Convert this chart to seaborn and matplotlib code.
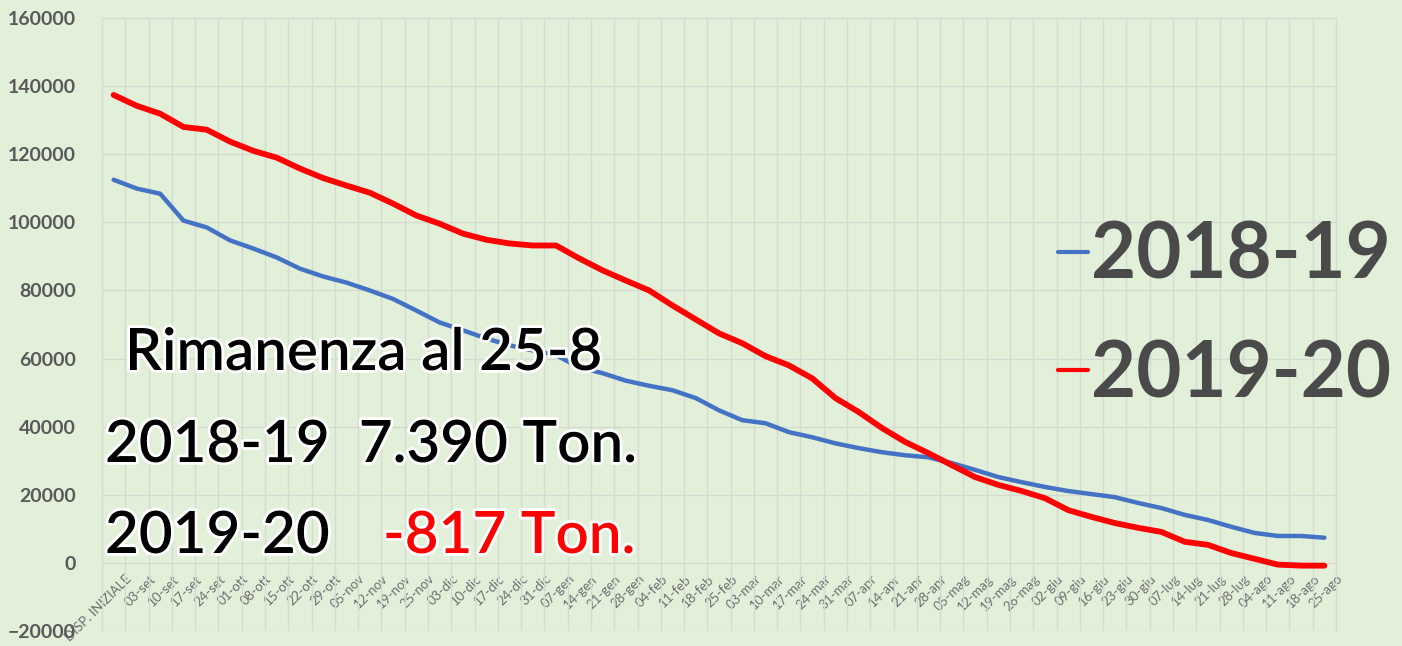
import numpy as np
import pandas as pd
import matplotlib
matplotlib.use('Agg')
import matplotlib.pyplot as plt
import seaborn as sns
from matplotlib import patheffects as pe
from matplotlib.transforms import ScaledTranslation

# settimane (asse x)
date = ['DISP. INIZIALE', '03-set', '10-set', '17-set', '24-set',
        '01-ott', '08-ott', '15-ott', '22-ott', '29-ott',
        '05-nov', '12-nov', '19-nov', '25-nov',
        '03-dic', '10-dic', '17-dic', '24-dic', '31-dic',
        '07-gen', '14-gen', '21-gen', '28-gen',
        '04-feb', '11-feb', '18-feb', '25-feb',
        '03-mar', '10-mar', '17-mar', '24-mar', '31-mar',
        '07-apr', '14-apr', '21-apr', '28-apr',
        '05-mag', '12-mag', '19-mag', '26-mag',
        '02-giu', '09-giu', '16-giu', '23-giu', '30-giu',
        '07-lug', '14-lug', '21-lug', '28-lug',
        '04-ago', '11-ago', '18-ago', '25-ago']

# rimanenze in tonnellate
ton_1819 = [112500, 109900, 108400, 100500, 98500, 94700, 92300, 89700, 86400, 84100,
            82300, 80000, 77500, 74100, 70600, 68300, 65900, 63900, 62400, 61000,
            57400, 55700, 53500, 52000, 50700, 48400, 44800, 41900, 41000, 38400,
            36900, 35100, 33700, 32500, 31600, 31000, 29300, 27300, 25200, 23700,
            22300, 21100, 20200, 19300, 17600, 16100, 14100, 12600, 10600, 8800,
            7900, 7900, 7390]
ton_1920 = [137400, 134200, 131900, 128000, 127200, 123700, 121000, 119000, 115800, 113000,
            110800, 108700, 105500, 102000, 99600, 96700, 94900, 93800, 93200, 93200,
            89400, 85900, 82900, 80000, 75600, 71500, 67400, 64500, 60700, 58000,
            54200, 48400, 44300, 39600, 35500, 32200, 28700, 25200, 22900, 21100,
            19000, 15500, 13500, 11700, 10300, 9100, 6200, 5300, 2900, 1200,
            -500, -800, -817]

stagioni = ['2018-19', '2019-20']
colori = {'2018-19': '#4472c4', '2019-20': '#ff0000'}

df = pd.DataFrame({
    'data': date * 2,
    'ton': ton_1819 + ton_1920,
    'stagione': [stagioni[0]] * len(date) + [stagioni[1]] * len(date),
})

bg = '#e2efd9'
sns.set_style('white')
plt.rcParams['font.family'] = ['Lato', 'DejaVu Sans']

W, H = 1402, 646
fig = plt.figure(figsize=(W / 100, H / 100), dpi=100, facecolor=bg)
ax = fig.add_axes([102 / W, 15 / H, (1336 - 102) / W, (631 - 18) / H])
ax.set_facecolor(bg)

sns.lineplot(data=df, x='data', y='ton', hue='stagione', palette=colori,
             sort=False, ax=ax, linewidth=3)
ax.lines[0].set_linewidth(3.2)
ax.lines[1].set_linewidth(4.2)
for ln in ax.lines:
    ln.set_solid_capstyle('round')

ax.set_xlim(-0.5, len(date) - 0.5)
ax.set_ylim(-20000, 160000)
ax.set_yticks(np.arange(-20000, 160001, 20000))
ax.set_xticks(np.arange(len(date)))
ax.set_xticks(np.arange(len(date) + 1) - 0.5, minor=True)
ax.set_xlabel('')
ax.set_ylabel('')

# griglia stile Excel
ax.grid(True, axis='y', which='major', color='#d3dbd3', linewidth=1)
ax.grid(True, axis='x', which='minor', color='#d3dbd3', linewidth=1)
ax.grid(False, axis='x', which='major')
for s in ['top', 'right', 'left']:
    ax.spines[s].set_color('#d3dbd3')
ax.spines['bottom'].set_visible(False)

# etichette x sulla linea dello zero
ax.spines['bottom'].set_position(('data', 0))
ax.tick_params(axis='x', which='both', length=0, pad=7)
sposta = ScaledTranslation(12 / 100, 0, fig.dpi_scale_trans)
for lab in ax.get_xticklabels():
    lab.set_rotation(45)
    lab.set_ha('right')
    lab.set_rotation_mode('anchor')
    lab.set_fontsize(9.5)
    lab.set_color('#6e6e6e')
    lab.set_transform(lab.get_transform() + sposta)
ax.tick_params(axis='y', length=0, pad=19)
plt.setp(ax.get_yticklabels(), fontsize=14, fontweight='bold', color='#595959')

# legenda
handles, labels = ax.get_legend_handles_labels()
leg = ax.legend(handles, labels, loc='upper left', bbox_to_anchor=(1058 / W, 1 - 221 / H),
                bbox_transform=fig.transFigure, frameon=False, handlelength=0.38,
                handletextpad=0.05, labelspacing=0.6, borderpad=0, borderaxespad=0,
                labelcolor='#4a4a4a',
                prop={'family': ['Lato', 'DejaVu Sans'], 'weight': 'bold', 'size': 56})

# annotazioni
fx = [pe.withStroke(linewidth=4, foreground='white')]
fig.text(125 / W, 1 - 370 / H, 'Rimanenza al 25-8', fontsize=42, fontweight='semibold',
         color='black', va='baseline', path_effects=fx)
fig.text(105 / W, 1 - 462 / H, '2018-19  7.390 Ton.', fontsize=42, fontweight='semibold',
         color='black', va='baseline', path_effects=fx)
fig.text(105 / W, 1 - 553 / H, '2019-20', fontsize=42, fontweight='semibold',
         color='black', va='baseline', path_effects=fx)
fig.text(383 / W, 1 - 553 / H, '-817 Ton.', fontsize=42, fontweight='semibold',
         color='#ff0000', va='baseline', path_effects=fx)

fig.savefig('out.png', dpi=100, facecolor=bg)
